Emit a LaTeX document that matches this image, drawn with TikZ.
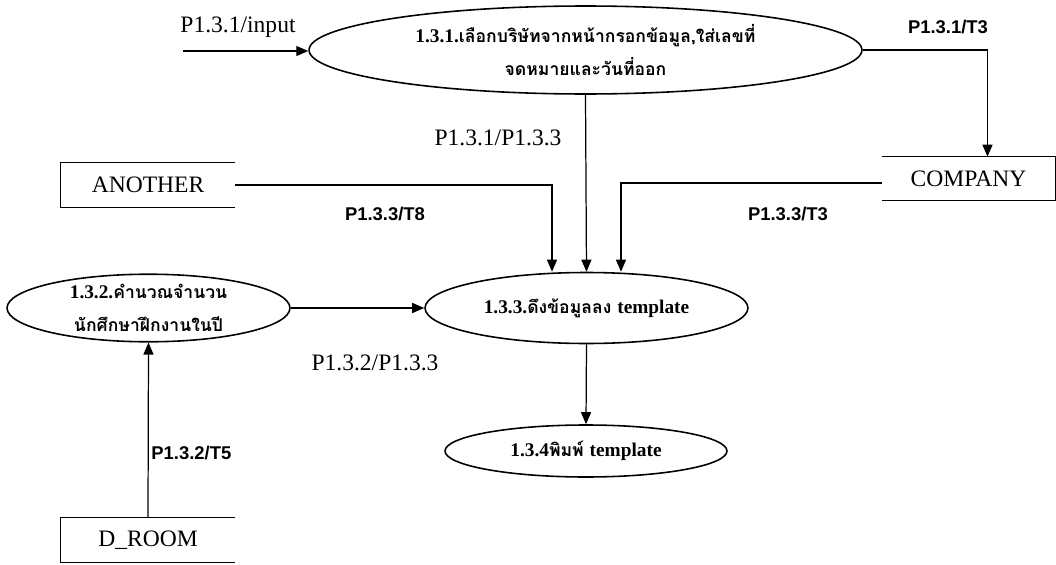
\documentclass[tikz,border=0pt]{standalone}
\usepackage{fontspec}
\setmainfont{Liberation Serif}
\newfontfamily\thaifont[Script=Thai]{Loma}
\newfontfamily\arialfont{Liberation Sans}
\usetikzlibrary{arrows.meta,positioning,shapes.geometric}
\newcommand{\procnum}[1]{{\rmfamily\bfseries\fontsize{11}{12}\selectfont #1}}
\tikzset{
  proc/.style={ellipse, draw=black, line width=0.9pt, inner sep=0pt, align=center, font=\thaifont\bfseries\fontsize{10}{19}\selectfont},
  store/.style={minimum width=3.48cm, minimum height=0.88cm, inner sep=0pt, font=\fontsize{13.4}{16}\selectfont},
  storeline/.style={line width=0.8pt, draw=black},
  flow/.style={-{Triangle[length=2.4mm,width=2mm]}, line width=0.7pt, draw=black},
  lbl/.style={font=\fontsize{13.4}{16}\selectfont, inner sep=0pt},
  slbl/.style={font=\arialfont\bfseries\fontsize{10.5}{12}\selectfont, inner sep=0pt}
}

\begin{document}
\begin{tikzpicture}[x=0.02cm, y=-0.02cm]
  \useasboundingbox (0,0) rectangle (1056,565);

  % processes
  \node[proc, minimum width=11.06cm, minimum height=1.76cm] (p131) at (585.5,50) {\procnum{1.3.1.}เลือกบริษัทจากหน้ากรอกข้อมูล,ใส่เลขที่\\จดหมายและวันที่ออก};
  \node[proc, minimum width=5.66cm, minimum height=1.32cm] (p132) at (148.5,308) {\procnum{1.3.2.}คำนวณจำนวน\\นักศึกษาฝึกงานในปี};
  \node[proc, minimum width=6.46cm, minimum height=1.42cm] (p133) at (586.5,308) {\procnum{1.3.3.}ดึงข้อมูลลง \procnum{template}};
  \node[proc, minimum width=5.64cm, minimum height=1.04cm] (p134) at (586,451) {\procnum{1.3.4}พิมพ์ \procnum{template}};

  % data stores
  \node[store] (another) at (148,185) {ANOTHER};
  \node[store, minimum width=3.46cm, minimum height=0.86cm] (company) at (968.5,178.5) {COMPANY};
  \node[store] (droom) at (148,540) {D\_ROOM};
  \draw[storeline] (another.north east) -- (another.north west) -- (another.south west) -- (another.south east);
  \draw[storeline] (droom.north east) -- (droom.north west) -- (droom.south west) -- (droom.south east);
  \draw[storeline] (company.north west) -- (company.north east) -- (company.south east) -- (company.south west);

  % flows
  \coordinate (src) at (183,51);
  \draw[flow] (src) -- (src -| p131.west);
  \draw[flow] (p131.east) -| ([xshift=0.38cm]company.north);
  \draw[flow] (p131.south) -- (p133.north);
  \draw[flow] (another.east) -| ([xshift=-0.69cm]p133.north);
  \draw[flow] ([yshift=-0.09cm]company.west) -| ([xshift=0.69cm]p133.north);
  \draw[flow] (p132.east) -- (p133.west);
  \draw[flow] (droom.north) -- (p132.south);
  \draw[flow] (p133.south) -- (p134.north);

  % flow labels
  \node[lbl] (l_in) at (238,27) {P1.3.1/input};
  \node[slbl] (l_t3) at (948,27) {P1.3.1/T3};
  \node[lbl] (l_13) at (498,138) {P1.3.1/P1.3.3};
  \node[slbl] (l_t8) at (385,214) {P1.3.3/T8};
  \node[slbl] (l_ct3) at (788,214) {P1.3.3/T3};
  \node[lbl] (l_23) at (375,363) {P1.3.2/P1.3.3};
  \node[slbl, anchor=west] (l_t5) at (151,453) {P1.3.2/T5};
\end{tikzpicture}
\end{document}
